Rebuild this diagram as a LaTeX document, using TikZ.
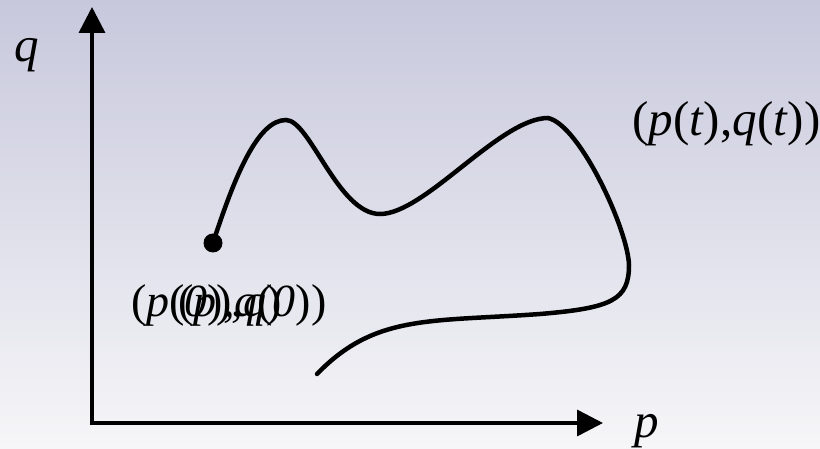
\documentclass[tikz,border=0pt]{standalone}
\usepackage{fontspec}
\setmainfont{Liberation Serif}
\usetikzlibrary{arrows.meta}
\definecolor{bgtop}{RGB}{199,200,220}
\definecolor{bgbot}{RGB}{246,246,248}
\begin{document}
\begin{tikzpicture}[x=1pt,y=-1pt,
  axis/.style={line width=3.6pt, line join=miter,
    {Triangle[length=26pt,width=26pt]}-{Triangle[length=26pt,width=26pt]}},
  curve/.style={line width=4.5pt, line cap=round},
  lbl/.style={inner sep=0pt, anchor=base west, font=\fontsize{49}{58}\selectfont},
  lblb/.style={inner sep=0pt, anchor=base west, font=\fontsize{46}{56}\selectfont},
  dotnode/.style={circle, fill=black, minimum size=19pt, inner sep=0pt}]
\shade[top color=bgtop, bottom color=bgbot] (0,0) rectangle (820,449);
\useasboundingbox (0,0) rectangle (820,449);
% axes
\coordinate (ytip) at (92,7);
\coordinate (orig) at (92,423);
\coordinate (xtip) at (603,423);
\draw[axis] (ytip) -- (orig) -- (xtip);
\node[lbl] (qlab) at (14,62) {\textit{q}};
\node[lbl] (plab) at (634,437) {\textit{p}};
% curve
\node[dotnode] (start) at (213,243) {};
\coordinate (cend) at (317,374);
\draw[curve] (start.center) .. controls (235,175) and (258,120) .. (286,120)
  .. controls (310,120) and (338,214) .. (380,214)
  .. controls (425,214) and (500,118) .. (548,118)
  .. controls (580,125) and (628,230) .. (629,265)
  .. controls (629,300) and (612,308) .. (540,314)
  .. controls (430,322) and (375,314) .. (cend);
% labels
\node[lbl] (ptlab) at (632,136) {(\textit{p}(\textit{t}),\textit{q}(\textit{t}))};
\node[lblb] (p0a) at (131,317) {(\textit{p}(\textit{0}),\textit{q}(\textit{0}))};
\node[lblb] (p0b) at (178,317) {(\textit{p}),\textit{q})};
\end{tikzpicture}
\end{document}
